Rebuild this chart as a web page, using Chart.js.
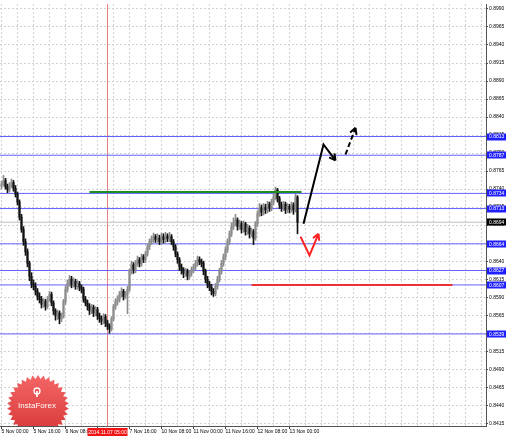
<!DOCTYPE html>
<html>
<head>
<meta charset="utf-8">
<script src="https://cdn.jsdelivr.net/npm/chart.js@4.4.0/dist/chart.umd.min.js"></script>
<style>
  html, body { margin: 0; padding: 0; background: #fff; }
  #chart { display: block; }
</style>
</head>
<body>
<canvas id="chart" width="510" height="437"></canvas>
<script>
// H1 candles, 5 Nov 00:00 .. 13 Nov 04:00 (prices)
const firstOpen = 0.8744;
const closePrices = [
  0.8747,0.8752,0.8743,0.8739,0.8745,0.8749,0.8741,0.8733,0.8722,0.8701,
  0.8684,0.8667,0.8653,0.8637,0.8619,0.8609,0.8605,0.8598,0.8591,0.8587,
  0.8580,0.8584,0.8577,0.8587,0.8594,0.8582,0.8571,0.8564,0.8568,0.8560,
  0.8564,0.8584,0.8601,0.8609,0.8615,0.8608,0.8612,0.8605,0.8609,0.8604,
  0.8601,0.8587,0.8582,0.8577,0.8571,0.8576,0.8568,0.8573,0.8564,0.8560,
  0.8557,0.8563,0.8554,0.8550,0.8546,0.8560,0.8577,0.8584,0.8587,0.8594,
  0.8598,0.8591,0.8594,0.8601,0.8626,0.8635,0.8628,0.8637,0.8642,0.8637,
  0.8646,0.8642,0.8650,0.8660,0.8667,0.8670,0.8674,0.8670,0.8672,0.8667,
  0.8674,0.8670,0.8675,0.8671,0.8674,0.8667,0.8660,0.8650,0.8642,0.8632,
  0.8628,0.8623,0.8626,0.8619,0.8623,0.8628,0.8632,0.8637,0.8642,0.8639,
  0.8637,0.8626,0.8615,0.8608,0.8604,0.8598,0.8595,0.8605,0.8615,0.8626,
  0.8637,0.8646,0.8656,0.8667,0.8678,0.8688,0.8694,0.8697,0.8688,0.8692,
  0.8684,0.8692,0.8681,0.8686,0.8678,0.8681,0.8672,0.8692,0.8706,0.8714,
  0.8708,0.8715,0.8711,0.8719,0.8714,0.8722,0.8729,0.8739,0.8727,0.8718,
  0.8714,0.8719,0.8711,0.8716,0.8712,0.8718,0.8711,0.8729,0.8694
];
const highPrices = [
  0.8751,0.8759,0.8755,0.8747,0.8749,0.8754,0.8752,0.8745,0.8736,0.8725,
  0.8705,0.8688,0.8671,0.8657,0.8640,0.8624,0.8614,0.8610,0.8602,0.8596,
  0.8591,0.8588,0.8587,0.8591,0.8598,0.8597,0.8585,0.8574,0.8572,0.8571,
  0.8568,0.8587,0.8605,0.8614,0.8620,0.8619,0.8617,0.8615,0.8613,0.8612,
  0.8607,0.8604,0.8591,0.8586,0.8581,0.8580,0.8579,0.8577,0.8576,0.8568,
  0.8564,0.8567,0.8566,0.8558,0.8553,0.8563,0.8580,0.8588,0.8592,0.8598,
  0.8603,0.8601,0.8598,0.8605,0.8629,0.8640,0.8638,0.8641,0.8647,0.8645,
  0.8650,0.8649,0.8654,0.8664,0.8671,0.8675,0.8679,0.8677,0.8678,0.8676,
  0.8679,0.8678,0.8680,0.8678,0.8680,0.8677,0.8670,0.8663,0.8653,0.8645,
  0.8636,0.8631,0.8630,0.8629,0.8627,0.8632,0.8636,0.8641,0.8647,0.8646,
  0.8643,0.8640,0.8629,0.8619,0.8612,0.8608,0.8602,0.8609,0.8619,0.8630,
  0.8641,0.8650,0.8660,0.8671,0.8682,0.8693,0.8700,0.8705,0.8700,0.8697,
  0.8695,0.8696,0.8694,0.8691,0.8689,0.8686,0.8684,0.8695,0.8710,0.8720,
  0.8718,0.8720,0.8719,0.8723,0.8722,0.8726,0.8733,0.8743,0.8741,0.8730,
  0.8722,0.8723,0.8722,0.8720,0.8719,0.8722,0.8721,0.8733,0.8731
];
const lowPrices = [
  0.8740,0.8744,0.8740,0.8735,0.8736,0.8742,0.8737,0.8729,0.8718,0.8697,
  0.8680,0.8662,0.8648,0.8632,0.8613,0.8603,0.8600,0.8593,0.8586,0.8582,
  0.8575,0.8576,0.8572,0.8574,0.8584,0.8578,0.8566,0.8558,0.8559,0.8553,
  0.8556,0.8561,0.8580,0.8597,0.8605,0.8603,0.8604,0.8601,0.8601,0.8599,
  0.8596,0.8583,0.8578,0.8572,0.8566,0.8567,0.8563,0.8564,0.8559,0.8555,
  0.8552,0.8553,0.8549,0.8545,0.8540,0.8543,0.8557,0.8573,0.8579,0.8583,
  0.8590,0.8586,0.8588,0.8567,0.8598,0.8622,0.8623,0.8624,0.8633,0.8632,
  0.8633,0.8638,0.8638,0.8647,0.8656,0.8663,0.8666,0.8666,0.8666,0.8663,
  0.8664,0.8665,0.8666,0.8667,0.8667,0.8663,0.8655,0.8646,0.8637,0.8627,
  0.8622,0.8617,0.8619,0.8614,0.8615,0.8619,0.8624,0.8628,0.8633,0.8635,
  0.8632,0.8621,0.8610,0.8603,0.8599,0.8593,0.8591,0.8592,0.8601,0.8611,
  0.8622,0.8633,0.8642,0.8652,0.8663,0.8674,0.8684,0.8689,0.8683,0.8684,
  0.8679,0.8680,0.8676,0.8677,0.8672,0.8674,0.8663,0.8669,0.8688,0.8702,
  0.8703,0.8704,0.8706,0.8707,0.8709,0.8710,0.8718,0.8725,0.8722,0.8713,
  0.8709,0.8710,0.8706,0.8707,0.8707,0.8708,0.8705,0.8708,0.8678
];
const openPrices = [firstOpen].concat(closePrices.slice(0, -1));

// axis ticks
const timeTickIndex = [0, 16, 32, 48, 64, 80, 96, 112, 128, 144];
const timeTickLabels = ['5 Nov 00:00', '5 Nov 16:00', '6 Nov 08:00', '7 Nov 00:00', '7 Nov 16:00',
  '10 Nov 08:00', '11 Nov 00:00', '11 Nov 16:00', '12 Nov 08:00', '13 Nov 00:00'];
const priceTicks = [0.8990, 0.8965, 0.8940, 0.8915, 0.8890, 0.8865, 0.8840, 0.8815, 0.8790, 0.8765,
  0.8740, 0.8715, 0.8690, 0.8665, 0.8640, 0.8615, 0.8590, 0.8565, 0.8540, 0.8515,
  0.8490, 0.8465, 0.8440, 0.8415];

// drawn objects
const blueLevels = [0.8813, 0.8787, 0.8734, 0.8713, 0.8664, 0.8627, 0.8607, 0.8539];
const bidPrice = 0.8694;
const greenLineX = [44, 150];
const greenLineY = [0.8736, 0.8736];
const redLineX = [125, 225.5];
const redLineY = [0.8607, 0.8607];
const blackArrowX = [151, 161, 167];
const blackArrowY = [0.8692, 0.8802, 0.8780];
const dashArrowX = [172, 177];
const dashArrowY = [0.8788, 0.8825];
const redArrowX = [149.5, 154, 158.5];
const redArrowY = [0.8674, 0.8648, 0.8678];
const cursorIndex = 53;
const cursorLabel = '2014.11.07 05:00';

const X_MIN = -0.75, X_MAX = 242.25;
const Y_MIN = 0.84112, Y_MAX = 0.89969;
const FONT = 'Liberation Sans';

const upCol = '#8c8c8c', downCol = '#111111';
const candleCol = closePrices.map((c, i) => c >= openPrices[i] ? upCol : downCol);

const pts = (xs, ys) => xs.map((x, i) => ({ x: x, y: ys[i] }));
const hLine = (p) => [{ x: X_MIN, y: p }, { x: X_MAX, y: p }];

const datasets = [];
blueLevels.forEach(p => datasets.push({
  type: 'line', data: hLine(p), borderColor: '#6262ff', borderWidth: 1,
  pointRadius: 0, order: 20
}));
datasets.push({ type: 'line', data: hLine(bidPrice), borderColor: '#c0c0c0', borderWidth: 1, pointRadius: 0, order: 21 });
datasets.push({ type: 'line', data: [{ x: cursorIndex, y: Y_MIN }, { x: cursorIndex, y: Y_MAX }],
  borderColor: '#ec8080', borderWidth: 1, pointRadius: 0, order: 22 });
datasets.push({
  type: 'bar', data: closePrices.map((c, i) => ({ x: i, y: [lowPrices[i], highPrices[i]] })),
  backgroundColor: candleCol, barThickness: 1, grouped: false, order: 11
});
datasets.push({
  type: 'bar', data: closePrices.map((c, i) => ({ x: i, y: [openPrices[i], c] })),
  backgroundColor: candleCol, barThickness: 1.4, grouped: false, order: 10
});
datasets.push({ type: 'line', data: pts(greenLineX, greenLineY), borderColor: '#1e8c1e', borderWidth: 2, pointRadius: 0, order: 5 });
datasets.push({ type: 'line', data: pts(redLineX, redLineY), borderColor: '#ee3030', borderWidth: 2, pointRadius: 0, order: 5 });
datasets.push({ type: 'line', data: pts(blackArrowX, blackArrowY), borderColor: '#000', borderWidth: 2, pointRadius: 0, order: 4, arrowHead: true });
datasets.push({ type: 'line', data: pts(dashArrowX, dashArrowY), borderColor: '#000', borderWidth: 2, borderDash: [5, 3], pointRadius: 0, order: 4, arrowHead: true });
datasets.push({ type: 'line', data: pts(redArrowX, redArrowY), borderColor: '#ff2020', borderWidth: 2, pointRadius: 0, order: 4, arrowHead: true });

// arrow heads, axis price boxes, cursor time box, logo
const extras = {
  id: 'extras',
  afterDatasetsDraw(chart) {
    const ctx = chart.ctx;
    chart.data.datasets.forEach((ds, i) => {
      if (!ds.arrowHead) return;
      const el = chart.getDatasetMeta(i).data;
      const a = el[el.length - 2], b = el[el.length - 1];
      const ang = Math.atan2(b.y - a.y, b.x - a.x);
      ctx.save();
      ctx.strokeStyle = ds.borderColor;
      ctx.lineWidth = 2;
      ctx.beginPath();
      [0.5, -0.5].forEach(d => {
        ctx.moveTo(b.x, b.y);
        ctx.lineTo(b.x - 7 * Math.cos(ang + d), b.y - 7 * Math.sin(ang + d));
      });
      ctx.stroke();
      ctx.restore();
    });
  },
  afterDraw(chart) {
    const ctx = chart.ctx, ca = chart.chartArea;
    const ys = chart.scales.y, xs = chart.scales.x;

    // InstaForex badge
    ctx.save();
    ctx.beginPath();
    ctx.rect(ca.left, ca.top, ca.right - ca.left, ca.bottom - ca.top);
    ctx.clip();
    const cx = ca.left + 38, cy = ca.bottom - 20, spikes = 34, ro = 31, ri = 27;
    ctx.beginPath();
    for (let k = 0; k < spikes * 2; k++) {
      const r = k % 2 ? ri : ro;
      const t = k * Math.PI / spikes - Math.PI / 2;
      ctx.lineTo(cx + r * Math.cos(t), cy + r * Math.sin(t));
    }
    ctx.closePath();
    const g = ctx.createLinearGradient(0, cy - ro, 0, cy + ro);
    g.addColorStop(0, '#f46666');
    g.addColorStop(1, '#d63636');
    ctx.fillStyle = g;
    ctx.fill();
    ctx.strokeStyle = '#fff';
    ctx.fillStyle = '#fff';
    ctx.lineWidth = 1.3;
    ctx.beginPath();
    ctx.arc(cx - 1, cy - 15, 3, 0, Math.PI * 2);
    ctx.stroke();
    ctx.fillRect(cx - 1.8, cy - 15, 1.6, 6);
    ctx.font = '8px ' + FONT;
    ctx.textAlign = 'center';
    ctx.textBaseline = 'middle';
    ctx.fillText('InstaForex', cx - 1, cy);
    ctx.restore();

    // price boxes on the right axis
    ctx.save();
    ctx.font = '5px ' + FONT;
    ctx.textBaseline = 'middle';
    ctx.textAlign = 'left';
    const box = (p, col) => {
      const y = ys.getPixelForValue(p);
      ctx.fillStyle = col;
      ctx.fillRect(ca.right + 1, Math.round(y) - 3.5, 19, 7);
      ctx.fillStyle = '#fff';
      ctx.fillText(p.toFixed(4), ca.right + 3, y + 0.5);
    };
    blueLevels.forEach(p => box(p, '#1f1fff'));
    box(bidPrice, '#000');

    // cursor time box
    const x = xs.getPixelForValue(cursorIndex);
    ctx.fillStyle = '#f01414';
    ctx.fillRect(x - 20, ca.bottom + 2, 40, 8);
    ctx.fillStyle = '#fff';
    ctx.textAlign = 'center';
    ctx.fillText(cursorLabel, x, ca.bottom + 6.5);
    ctx.restore();
  }
};

new Chart(document.getElementById('chart'), {
  type: 'bar',
  data: { datasets: datasets },
  options: {
    responsive: false,
    animation: false,
    events: [],
    devicePixelRatio: 1,
    layout: { padding: 0 },
    plugins: { legend: { display: false }, tooltip: { enabled: false } },
    scales: {
      x: {
        type: 'linear', min: X_MIN, max: X_MAX, offset: false,
        afterBuildTicks(s) {
          const t = [];
          for (let v = 0; v <= 240; v += 8) t.push({ value: v });
          s.ticks = t;
        },
        afterFit(s) { s.height = 11; },
        ticks: {
          autoSkip: false, maxRotation: 0, align: 'start', padding: 0,
          color: '#000', font: { family: FONT, size: 5 },
          callback: (v) => {
            const k = timeTickIndex.indexOf(v);
            return k >= 0 ? timeTickLabels[k] : '';
          }
        },
        grid: {
          offset: false, color: '#d2d2d2', lineWidth: 1, tickLength: 3,
          tickColor: (c) => (c.tick && timeTickIndex.indexOf(c.tick.value) >= 0) ? '#444' : 'rgba(0,0,0,0)'
        },
        border: { display: true, color: '#555', width: 1, dash: [2, 2] }
      },
      y: {
        type: 'linear', position: 'right', min: Y_MIN, max: Y_MAX,
        afterBuildTicks(s) { s.ticks = priceTicks.map(v => ({ value: v })); },
        afterFit(s) { s.width = 24; },
        ticks: {
          autoSkip: false, padding: 1, color: '#000',
          font: { family: FONT, size: 5 },
          callback: (v) => Number(v).toFixed(4)
        },
        grid: { offset: false, color: '#d2d2d2', lineWidth: 1, tickLength: 2, tickColor: '#444' },
        border: { display: true, color: '#555', width: 1, dash: [2, 2] }
      }
    }
  },
  plugins: [extras]
});
</script>
</body>
</html>
